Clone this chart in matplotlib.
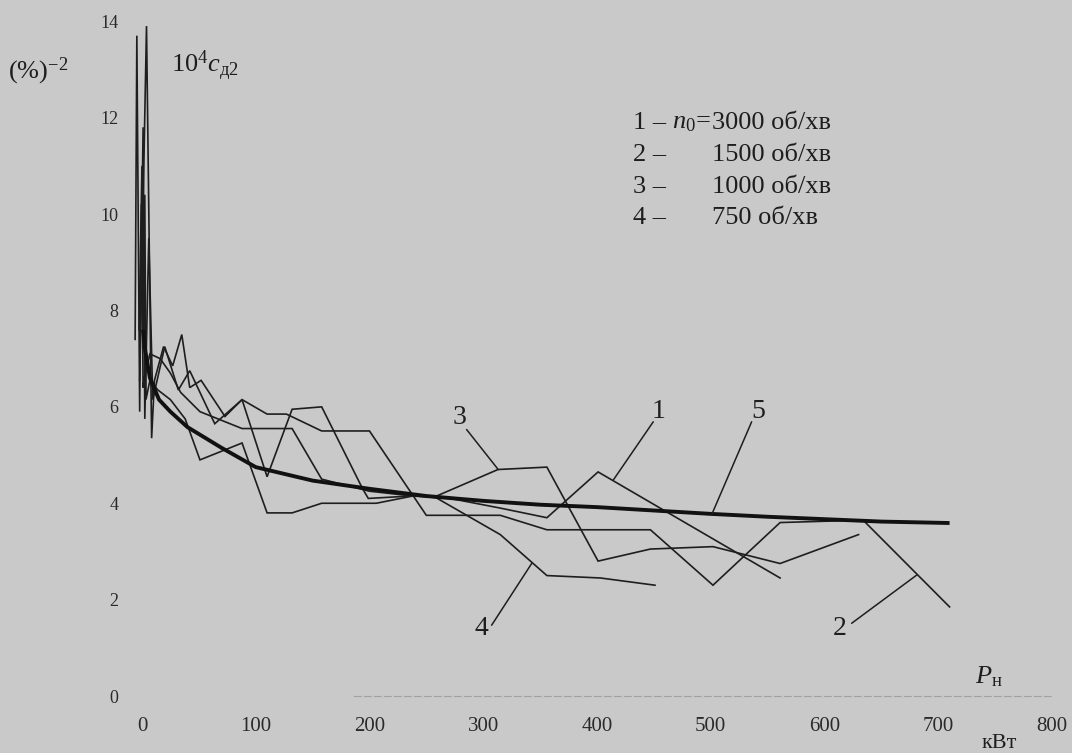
import matplotlib

matplotlib.use("Agg")
import matplotlib.pyplot as plt

plt.rcParams["font.family"] = ["Liberation Serif", "DejaVu Serif"]
plt.rcParams["mathtext.fontset"] = "custom"
plt.rcParams["mathtext.rm"] = "Liberation Serif"
plt.rcParams["mathtext.it"] = "Liberation Serif:italic"

# curves 1-4: measured points, curve 5: smooth approximation
p_1 = [-6, -4.5, -2, -0.5, 1, 2, 7, 16, 25, 34, 51, 88, 132, 158, 200, 238, 271, 315, 356, 401, 561]
v_1 = [7.4, 13.7, 5.9, 10.2, 6.4, 6.6, 7.1, 7.0, 6.7, 6.3, 5.9, 5.55, 5.55, 4.5, 4.25, 4.15, 4.1, 3.9, 3.7,
       4.65, 2.45]

p_2 = [-2, 4, 8.5, 11, 19, 27, 35, 42, 52, 73, 88, 110, 127, 158, 200, 250, 315, 356, 447, 502, 561, 634, 710]
v_2 = [6.55, 13.9, 5.35, 6.55, 7.25, 6.85, 7.5, 6.4, 6.55, 5.8, 6.15, 5.85, 5.85, 5.5, 5.5, 3.75, 3.75,
       3.45, 3.45, 2.3, 3.6, 3.65, 1.85]

p_3 = [-1, 1, 2.5, 6, 9.5, 20, 32, 42, 64, 88, 110, 132, 158, 194, 199, 236, 259, 313, 356, 401, 447, 502,
       561, 630]
v_3 = [8.2, 11.8, 5.75, 9.5, 6.15, 7.25, 6.35, 6.75, 5.65, 6.15, 4.55, 5.95, 6.0, 4.3, 4.1, 4.15, 4.15, 4.7,
       4.75, 2.8, 3.05, 3.1, 2.75, 3.35]

p_4 = [-2.5, 0, 1.5, 2.5, 3.5, 7, 14, 25, 38, 51, 88, 110, 132, 158, 206, 238, 256, 315, 356, 403, 451]
v_4 = [7.6, 11.0, 7.2, 10.4, 6.15, 6.55, 6.35, 6.15, 5.75, 4.9, 5.25, 3.8, 3.8, 4.0, 4.0, 4.15, 4.15, 3.35,
       2.5, 2.45, 2.3]

p_5 = [1, 3, 7, 15, 25, 40, 70, 100, 150, 200, 250, 300, 350, 400, 450, 500, 550, 600, 650, 710]
v_5 = [7.6, 7.15, 6.6, 6.15, 5.9, 5.58, 5.15, 4.75, 4.47, 4.3, 4.15, 4.05, 3.97, 3.92, 3.85, 3.78, 3.72,
       3.67, 3.62, 3.59]

x_ticks = [0, 100, 200, 300, 400, 500, 600, 700, 800]
y_ticks = [0, 2, 4, 6, 8, 10, 12, 14]

legend_nums = ["1 –", "2 –", "3 –", "4 –"]
legend_vals = ["3000 об/хв", "1500 об/хв", "1000 об/хв", "750 об/хв"]

W, H = 1072, 753
BG = "#c9c9c9"
INK = "#1e1e1e"


def px(x, y):
    return x / W, 1 - y / H


fig = plt.figure(figsize=(W / 100, H / 100), dpi=100, facecolor=BG)
ax = fig.add_axes([0.1112, 0.0564, 0.8807, 0.9410])
ax.set_facecolor(BG)
ax.set_xlim(-20, 810)
ax.set_ylim(-0.3, 14.4)

for p, v in [(p_1, v_1), (p_2, v_2), (p_3, v_3), (p_4, v_4)]:
    ax.plot(p, v, color=INK, lw=1.2, solid_joinstyle="miter")
ax.plot(p_5, v_5, color="#111111", lw=2.8, solid_capstyle="butt")

# curve labels with leader lines: (text pos, leader start, leader end)
leaders = {
    "3": ((279.6, 5.77), (285.4, 5.53), (313.2, 4.70)),
    "1": ((453.9, 5.90), (449.5, 5.69), (414.3, 4.48)),
    "5": ((541.8, 5.90), (536.0, 5.69), (500.8, 3.76)),
    "4": ((298.6, 1.40), (307.4, 1.47), (342.6, 2.75)),
    "2": ((613.6, 1.40), (623.9, 1.51), (681.1, 2.51)),
}
for lab, (txt, start, end) in leaders.items():
    ax.annotate("", xy=end, xytext=start,
                arrowprops=dict(arrowstyle="-", color=INK, lw=1.1, shrinkA=0, shrinkB=0))
    ax.text(txt[0], txt[1], lab, fontsize=20, color=INK, ha="center", va="center")

ax.set_xticks(x_ticks)
ax.set_yticks(y_ticks)
ax.set_xticklabels([str(t) for t in x_ticks])
ax.set_yticklabels([str(t) for t in y_ticks])
ax.tick_params(axis="both", length=0, colors="#2a2a2a")
ax.tick_params(axis="y", labelsize=13, pad=0.5)
ax.tick_params(axis="x", labelsize=15, pad=15)

for side in ("top", "right", "left"):
    ax.spines[side].set_visible(False)
ax.spines["bottom"].set_position(("data", 0))
ax.spines["bottom"].set_bounds(186, 800)
ax.spines["bottom"].set_color("#a2a2a2")
ax.spines["bottom"].set_linewidth(0.8)
ax.spines["bottom"].set_linestyle((0, (6, 3)))

# axis captions
fig.text(*px(8, 78), r"(%)$^{-2}$", fontsize=19, color=INK, va="baseline")
fig.text(*px(171, 72), r"$10^4c_{\mathrm{д}2}$", fontsize=19, color=INK, va="baseline")
fig.text(*px(975, 683), r"$P_{\mathrm{н}}$", fontsize=19, color=INK, va="baseline")
fig.text(*px(999, 744), "кВт", fontsize=16, color=INK, ha="center", va="center")

# legend block
rows_y = [123, 155, 187, 218]
for num, val, ry in zip(legend_nums, legend_vals, rows_y):
    fig.text(*px(633, ry), num, fontsize=19, color=INK, va="center")
    fig.text(*px(712, ry), val, fontsize=19, color=INK, va="center")
fig.text(*px(711, rows_y[0]), r"$n_0$=", fontsize=19, color=INK, va="center", ha="right")

fig.savefig("out.png", dpi=100, facecolor=BG)
